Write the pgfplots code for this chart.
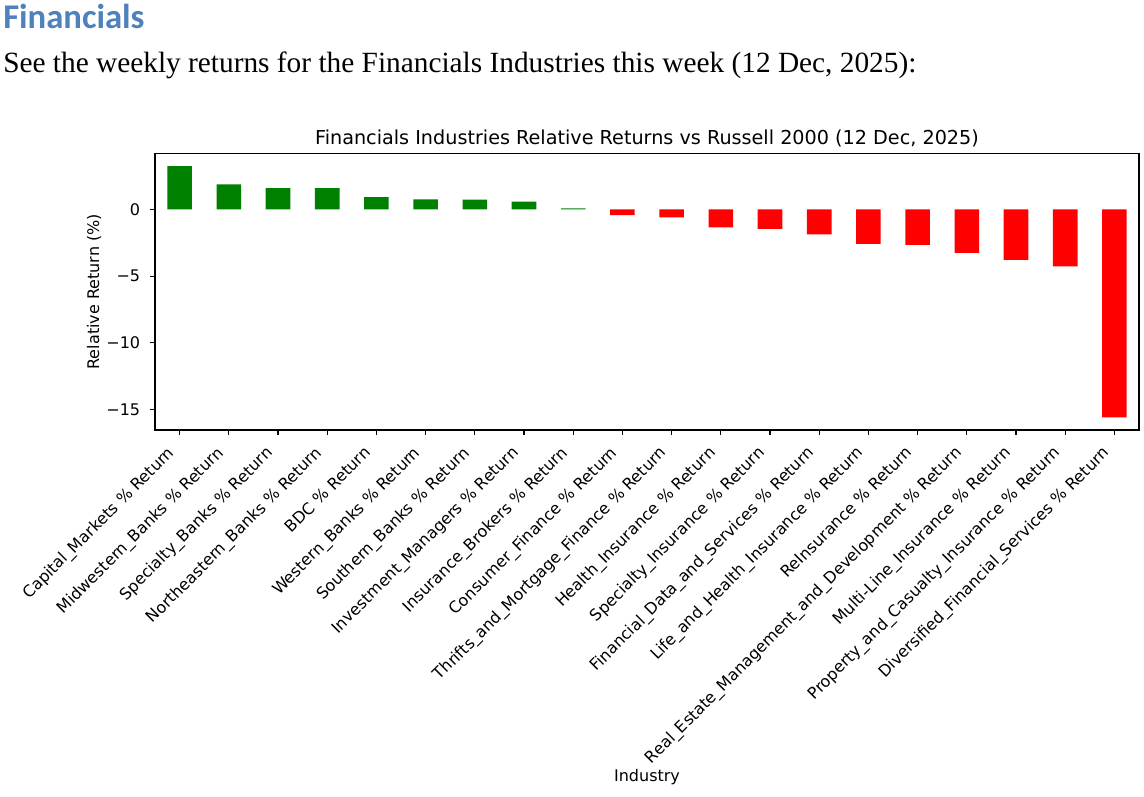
\documentclass[border=0pt]{standalone}
\usepackage{pgfplots}
\pgfplotsset{compat=1.18}
\usepackage{fontspec}
\setmainfont{DejaVu Sans}
\newfontfamily\headfont{Carlito}
\newfontfamily\bodyfont{Liberation Serif}
\definecolor{headblue}{HTML}{4F81BD}
\definecolor{mplgreen}{HTML}{008000}
\definecolor{mplred}{HTML}{FF0000}

\begin{document}
\begin{tikzpicture}[x=0.75pt,y=0.75pt]
% page is 1144 x 796 px, 1 px = 0.75 pt
\fill[white] (0,0) rectangle (1144,796);
\path[use as bounding box] (0,0) rectangle (1144,796);
\coordinate (axsw) at (155,366);

\node[anchor=base west, inner sep=0pt, text=headblue]
  at (3,767) {\headfont\bfseries\fontsize{26pt}{30pt}\selectfont Financials};
\node[anchor=base west, inner sep=0pt]
  at (3,723) {\bodyfont\fontsize{22pt}{26pt}\selectfont See the weekly returns for the Financials Industries this week (12 Dec, 2025):};

\begin{axis}[
    at={(axsw)}, anchor=south west,
    scale only axis, width=738pt, height=207.4pt,
    xmin=-0.5, xmax=19.5, ymin=-16.52, ymax=4.19,
    axis line style={line width=0.83pt},
    tick align=outside, xtick pos=bottom, ytick pos=left,
    major tick length=3.65pt,
    every tick/.style={black, line width=0.83pt},
    xtick={0,...,19},
    xticklabels={
      Capital\_Markets \% Return,
      Midwestern\_Banks \% Return,
      Specialty\_Banks \% Return,
      Northeastern\_Banks \% Return,
      BDC \% Return,
      Western\_Banks \% Return,
      Southern\_Banks \% Return,
      Investment\_Managers \% Return,
      Insurance\_Brokers \% Return,
      Consumer\_Finance \% Return,
      Thrifts\_and\_Mortgage\_Finance \% Return,
      Health\_Insurance \% Return,
      Specialty\_Insurance \% Return,
      Financial\_Data\_and\_Services \% Return,
      Life\_and\_Health\_Insurance \% Return,
      ReInsurance \% Return,
      Real\_Estate\_Management\_and\_Development \% Return,
      Multi-Line\_Insurance \% Return,
      Property\_and\_Casualty\_Insurance \% Return,
      Diversified\_Financial\_Services \% Return},
    ytick={-15,-10,-5,0},
    yticklabels={−15,−10,−5,0},
    tick label style={font=\fontsize{12pt}{14pt}\selectfont},
    xticklabel style={xshift=-9.9pt, yshift=-7.5pt, rotate=45, anchor=north east, inner sep=0pt},
    yticklabel style={anchor=east, inner sep=0pt, xshift=-7.3pt},
    title={Financials Industries Relative Returns vs Russell 2000 (12 Dec, 2025)},
    title style={font=\fontsize{14.4pt}{17pt}\selectfont, at={(axis description cs:0.5,1)}, anchor=base, yshift=0.8pt, inner sep=0pt},
    xlabel={Industry},
    xlabel style={font=\fontsize{12pt}{14pt}\selectfont, at={(axis description cs:0.5,-1.255)}, anchor=center},
    ylabel={Relative Return (\%)},
    ylabel style={font=\fontsize{12pt}{14pt}\selectfont, at={(axis description cs:-0.062,0.5)}, anchor=center},
    ybar, bar width=0.5, bar shift=0pt,
]
\addplot[fill=mplgreen, draw=none] coordinates {
  (0,3.25) (1,1.875) (2,1.60) (3,1.59) (4,0.925) (5,0.75) (6,0.74) (7,0.575) (8,0.08)
};
\addplot[fill=mplred, draw=none] coordinates {
  (9,-0.43) (10,-0.60) (11,-1.35) (12,-1.45) (13,-1.875) (14,-2.575)
  (15,-2.65) (16,-3.25) (17,-3.775) (18,-4.275) (19,-15.58)
};
\end{axis}
\end{tikzpicture}
\end{document}
